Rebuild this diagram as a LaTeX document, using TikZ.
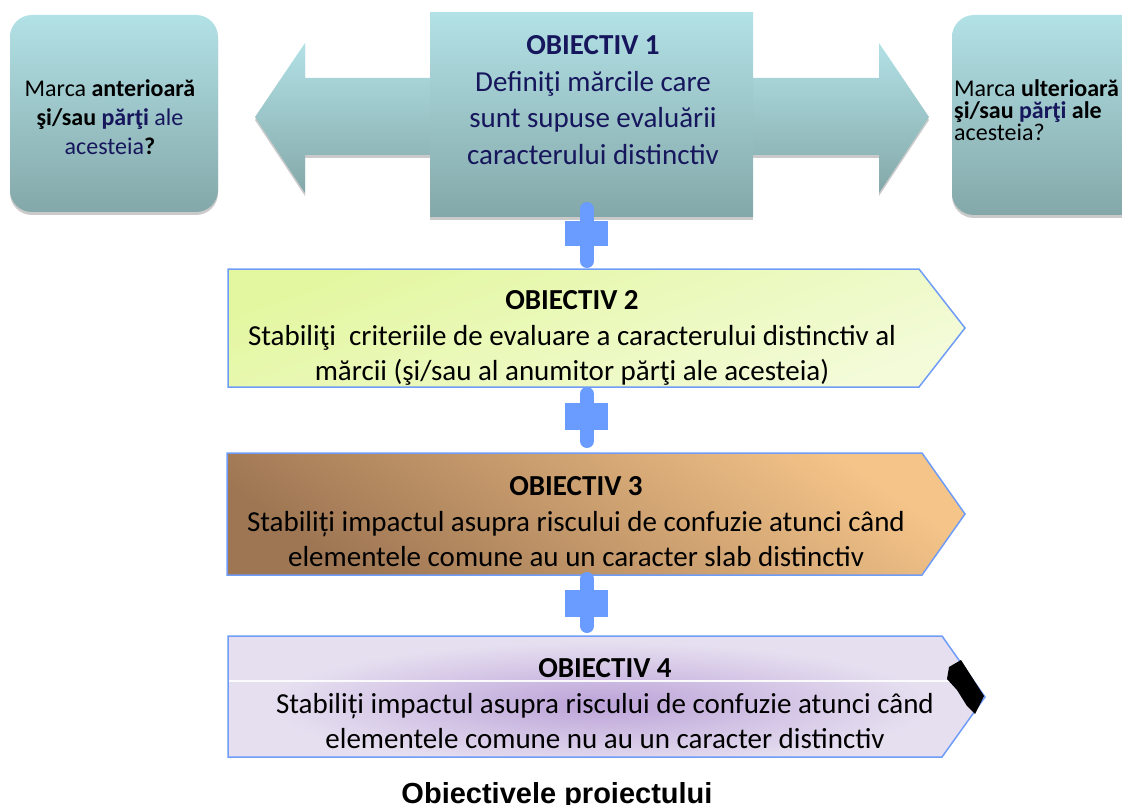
\documentclass[tikz,border=0pt]{standalone}
\usepackage{fontspec}
\setmainfont{Carlito}
\newfontfamily\arialfont{Liberation Sans}
\usetikzlibrary{shadows,calc}
\definecolor{tealtop}{HTML}{B2E1E6}
\definecolor{tealbot}{HTML}{84A8A9}
\definecolor{navy}{HTML}{16165C}
\definecolor{chevblue}{HTML}{6E9CF7}
\definecolor{plusblue}{HTML}{6A9BFF}
\definecolor{ylA}{HTML}{E3F7A0}
\definecolor{ylB}{HTML}{F3FBD9}
\definecolor{orA}{HTML}{F4C489}
\definecolor{orB}{HTML}{9E7653}
\definecolor{lav}{HTML}{E6DFF0}
\definecolor{lavdeep}{HTML}{BCA3D8}
\tikzset{
  teal/.style={top color=tealtop, bottom color=tealbot},
  shadowed/.style={drop shadow={shadow xshift=0pt,shadow yshift=-3pt,opacity=0.35,fill=black!60}},
  chev/.style={draw=chevblue, line width=1.5pt, line join=miter},
  plusline/.style={draw=plusblue, line width=14pt, line cap=round},
  plusbar/.style={fill=plusblue},
  txt/.style={inner sep=0pt, align=center, text=black},
  bigtxt/.style={txt, font=\fontsize{29}{35.5}\selectfont},
  sidetxt/.style={inner sep=0pt, text=black},
}
\begin{document}
\begin{tikzpicture}[x=1pt,y=-1pt]
\useasboundingbox (0,0) rectangle (1122,805);

% side boxes
\node[teal, shadowed, rounded corners=22pt, minimum width=208pt, minimum height=197pt, inner sep=0pt] (lbox) at (114,113.5) {};
\node[teal, shadowed, rounded corners=22pt, minimum width=208pt, minimum height=200pt, inner sep=0pt] (rbox) at (1056,115) {};

% double arrow
\path[teal, shadowed] (255,117) -- (305,43) -- (305,78) -- (879,78) -- (879,43) -- (929,117)
   -- (879,193) -- (879,155) -- (305,155) -- (305,193) -- cycle;

% objective 1 box
\node[teal, shadowed, minimum width=323pt, minimum height=204pt, inner sep=0pt] (obj1) at (591.5,115) {};

% side texts
\node[sidetxt, align=center, font=\fontsize{24}{29}\selectfont] (ltext) at (110,117)
  {Marca \textbf{anterioară}\\ \textbf{şi/sau} \textbf{\color{navy}părţi} {\color{navy}ale}\\ {\color{navy}acesteia}\textbf{?}};
\node[sidetxt, align=left, anchor=west, font=\fontsize{24}{22}\selectfont] (rtext) at (954,110)
  {Marca \textbf{ulterioară}\\ \textbf{şi/sau} \textbf{\color{navy}părţi} \textbf{ale}\\ acesteia?};

\node[bigtxt, text=navy, font=\fontsize{29}{36.5}\selectfont] (t1) at (593,100)
  {\textbf{OBIECTIV 1}\\ Definiţi mărcile care\\ sunt supuse evaluării\\ caracterului distinctiv};

% objective 2
\path[chev, top color=ylA, bottom color=ylB, shading angle=20]
  (228,269) -- (919,269) -- (965,328) -- (919,387) -- (228,387) -- cycle;
\node[bigtxt] (t2) at (572,338)
  {\textbf{OBIECTIV 2}\\ Stabiliţi\ \ criteriile de evaluare a caracterului distinctiv al\\ mărcii (şi/sau al anumitor părţi ale acesteia)};

% objective 3
\path[chev, top color=orA, bottom color=orB, shading angle=-35]
  (227,453) -- (922,453) -- (965,514) -- (922,575) -- (227,575) -- cycle;
\node[bigtxt] (t3) at (576,522)
  {\textbf{OBIECTIV 3}\\ Stabiliți impactul asupra riscului de confuzie atunci când\\ elementele comune au un caracter slab distinctiv};

% objective 4
\path[fill=lav] (228,636) -- (942,636) -- (985,697) -- (942,757) -- (228,757) -- cycle;
\begin{scope}
  \clip (228,636) -- (942,636) -- (985,697) -- (942,757) -- (228,757) -- cycle;
  \shade[inner color=lavdeep, outer color=lav] (600,704) ellipse (330 and 62);
  \draw[white!85!lav, line width=1.2pt] (228,681) -- (985,681);
\end{scope}
\path[chev] (228,636) -- (942,636) -- (985,697) -- (942,757) -- (228,757) -- cycle;
\fill[black] (949,667) -- (961,660) -- (984,696) -- (975,714) -- (967,706) -- (957,690) -- (947,679) -- cycle;
\node[bigtxt] (t4) at (605,704)
  {\textbf{OBIECTIV 4}\\ Stabiliți impactul asupra riscului de confuzie atunci când\\ elementele comune nu au un caracter distinctiv};

% plus connectors
\coordinate (o1s) at (587,217);
\coordinate (o2n) at (587,269);
\coordinate (o2s) at (587,387);
\coordinate (o3n) at (587,453);
\coordinate (o3s) at (587,575);
\coordinate (o4n) at (587,636);
\draw[plusline] ($(o1s)+(0,-8)$) -- ($(o2n)+(0,-8)$);
\fill[plusbar] (565,221) rectangle (608,246);
\draw[plusline] ($(o2s)+(0,7)$) -- ($(o3n)+(0,-12)$);
\fill[plusbar] (565,403) rectangle (608,430);
\draw[plusline] ($(o3s)+(0,4)$) -- ($(o4n)+(0,-10)$);
\fill[plusbar] (565,590) rectangle (608,617);

% title
\node[anchor=base, inner sep=0pt, font=\arialfont\bfseries\fontsize{29}{34}\selectfont] (title) at (557,803) {Obiectivele proiectului};
\end{tikzpicture}
\end{document}
